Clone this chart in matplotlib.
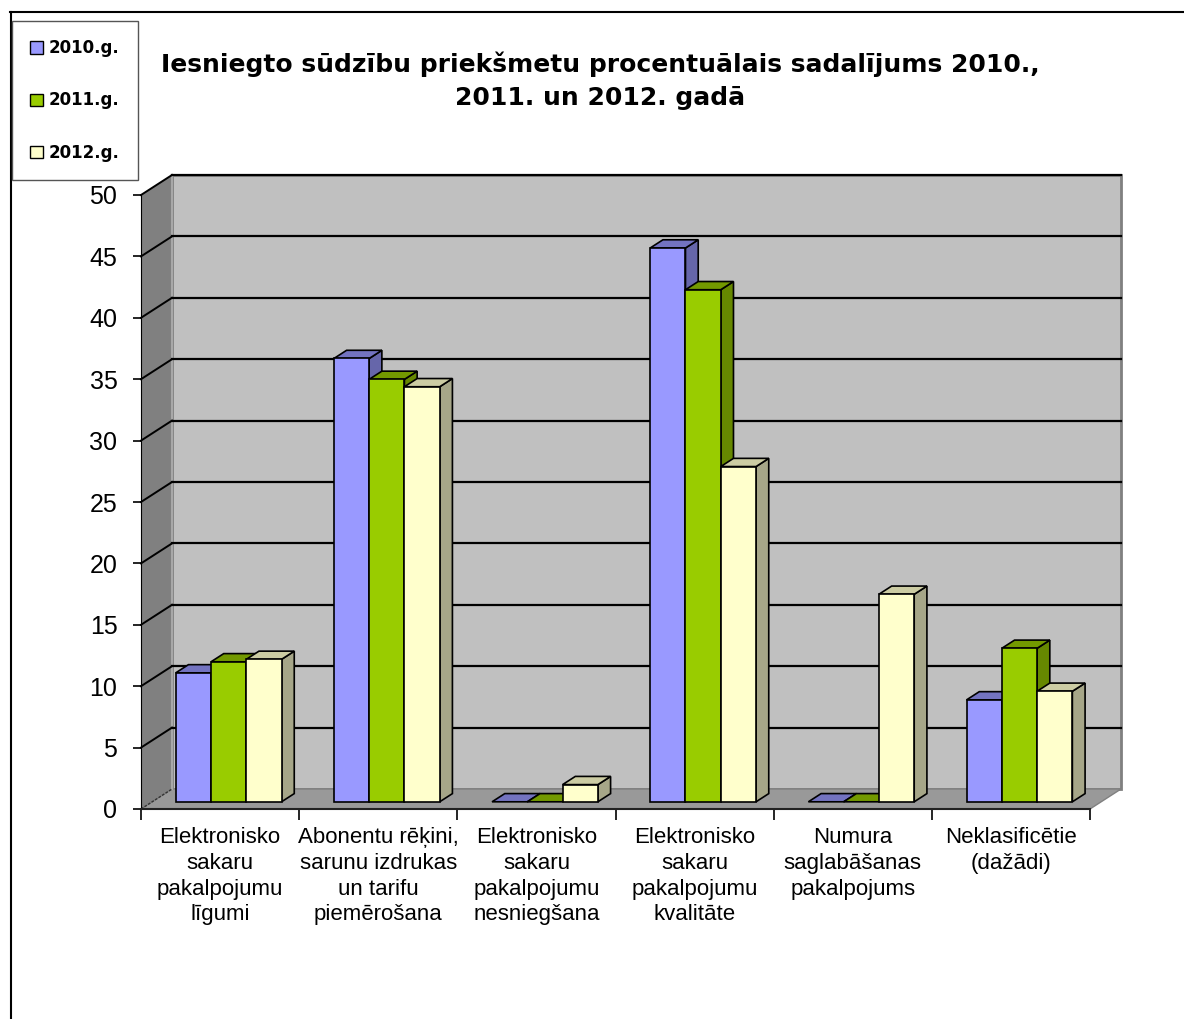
import numpy as np
import matplotlib.pyplot as plt
from matplotlib.patches import Patch
from matplotlib.lines import Line2D

categories = [
    "Elektronisko\nsakaru\npakalpojumu\nlīgumi",
    "Abonentu rēķini,\nsarunu izdrukas\nun tarifu\npiemērošana",
    "Elektronisko\nsakaru\npakalpojumu\nnesniegšana",
    "Elektronisko\nsakaru\npakalpojumu\nkvalitāte",
    "Numura\nsaglabāšanas\npakalpojums",
    "Neklasificētie\n(dažādi)",
]
years = ["2010.g.", "2011.g.", "2012.g."]
y2010 = [10.5, 36.1, 0.0, 45.1, 0.0, 8.3]
y2011 = [11.4, 34.4, 0.0, 41.7, 0.0, 12.5]
y2012 = [11.6, 33.8, 1.4, 27.3, 16.9, 9.0]
yticks = list(range(0, 55, 5))

title = "Iesniegto sūdzību priekšmetu procentuālais sadalījums 2010.,\n2011. un 2012. gadā"

# front, top, side colours per series
face_cols = [("#9999FF", "#7373C0", "#6666AA"),
             ("#99CC00", "#739900", "#668800"),
             ("#FFFFCC", "#CCCCA3", "#A6A688")]

W, H = 1184, 1019
fig = plt.figure(figsize=(W / 100, H / 100), dpi=100)
ax = fig.add_axes([141 / W, 1 - 809 / H, 949 / W, 614 / H])

n = len(categories)
ymax = 50
ax.set_xlim(0, n)
ax.set_ylim(0, ymax)
ax.patch.set_visible(False)

# depth of the 3d box, in data units
dx = 31 / (949 / n)
dy = 20 / (614 / ymax)

# walls and floor
ax.fill([0, dx, dx, 0], [0, dy, ymax + dy, ymax], color="#808080", lw=0, zorder=0.5, clip_on=False)
ax.fill([dx, n + dx, n + dx, dx], [dy, dy, ymax + dy, ymax + dy], facecolor="#C0C0C0",
        edgecolor="#808080", lw=2, zorder=0.5, clip_on=False)
ax.fill([0, n, n + dx, dx], [0, 0, dy, dy], facecolor="#999999", edgecolor="#808080",
        lw=1, zorder=0.6, clip_on=False)

# gridlines on the walls
for v in yticks[1:]:
    ax.plot([dx, n + dx], [v + dy, v + dy], color="black", lw=1.6, zorder=0.7, clip_on=False)
    ax.plot([0, dx], [v, v + dy], color="black", lw=1.4, zorder=0.7, clip_on=False)
ax.plot([0, dx], [0, dy], color="#333333", lw=1, ls=(0, (2, 1)), zorder=0.7, clip_on=False)
ax.plot([dx, dx], [dy, ymax + dy], color="#A8A8A8", lw=1.5, zorder=0.6, clip_on=False)

# 3d bars
series = [y2010, y2011, y2012]
w = 0.223
off = 0.149
f0, f1 = 0.36, 0.77
bx, by = (f1 - f0) * dx, (f1 - f0) * dy
for j in range(n):
    for i, vals in enumerate(series):
        v = vals[j]
        front, top, side = face_cols[i]
        x0 = j + off + i * w + f0 * dx
        b = f0 * dy
        ax.fill([x0 + w, x0 + w + bx, x0 + w + bx, x0 + w], [b, b + by, b + v + by, b + v],
                facecolor=side, edgecolor="black", lw=1.2, zorder=3, clip_on=False)
        ax.fill([x0, x0 + w, x0 + w + bx, x0 + bx], [b + v, b + v, b + v + by, b + v + by],
                facecolor=top, edgecolor="black", lw=1.2, zorder=3, clip_on=False)
        if v > 0:
            ax.bar(x0, v, width=w, bottom=b, align="edge", color=front,
                   edgecolor="black", lw=1.2, zorder=3, clip_on=False)

# axes
for s in ["top", "right"]:
    ax.spines[s].set_visible(False)
ax.spines["left"].set_color("black")
ax.spines["bottom"].set_color("#222222")
ax.spines["bottom"].set_linewidth(1.5)
ax.set_yticks(yticks)
ax.set_yticklabels([str(t) for t in yticks], fontsize=18, family="Liberation Sans")
ax.tick_params(axis="y", direction="out", length=6, width=1.2, pad=11)
ax.set_xticks(np.arange(0, n + 1))
ax.set_xticklabels([])
ax.tick_params(axis="x", which="major", direction="out", length=8, width=1.2)
ax.set_xticks(np.arange(n) + 0.5, minor=True)
ax.set_xticklabels(categories, minor=True, fontsize=16, family="Liberation Sans",
                   linespacing=1.3, va="top")
ax.tick_params(axis="x", which="minor", length=0, pad=13)

fig.text(600 / W, 1 - 81 / H, title, ha="center", va="center", fontsize=18,
         fontweight="bold", family="DejaVu Sans", linespacing=1.5)

handles = [Patch(facecolor=c[0], edgecolor="black", lw=1) for c in face_cols]
leg = fig.legend(handles, years, loc="upper left", bbox_to_anchor=(12 / W, 1 - 21 / H),
                 borderaxespad=0, fancybox=False, framealpha=1, edgecolor="#555555",
                 prop={"family": "DejaVu Sans", "weight": "bold", "size": 12},
                 handlelength=0.75, handleheight=0.75, handletextpad=0.35,
                 labelspacing=2.05, borderpad=1.1)
leg.get_frame().set_linewidth(1)

# outer chart border
fig.add_artist(Line2D([10.5 / W, 10.5 / W], [0, 1 - 12 / H], color="black", lw=1.5))
fig.add_artist(Line2D([10 / W, 1], [1 - 12 / H, 1 - 12 / H], color="black", lw=1.5))

fig.savefig("out.png", dpi=100)
